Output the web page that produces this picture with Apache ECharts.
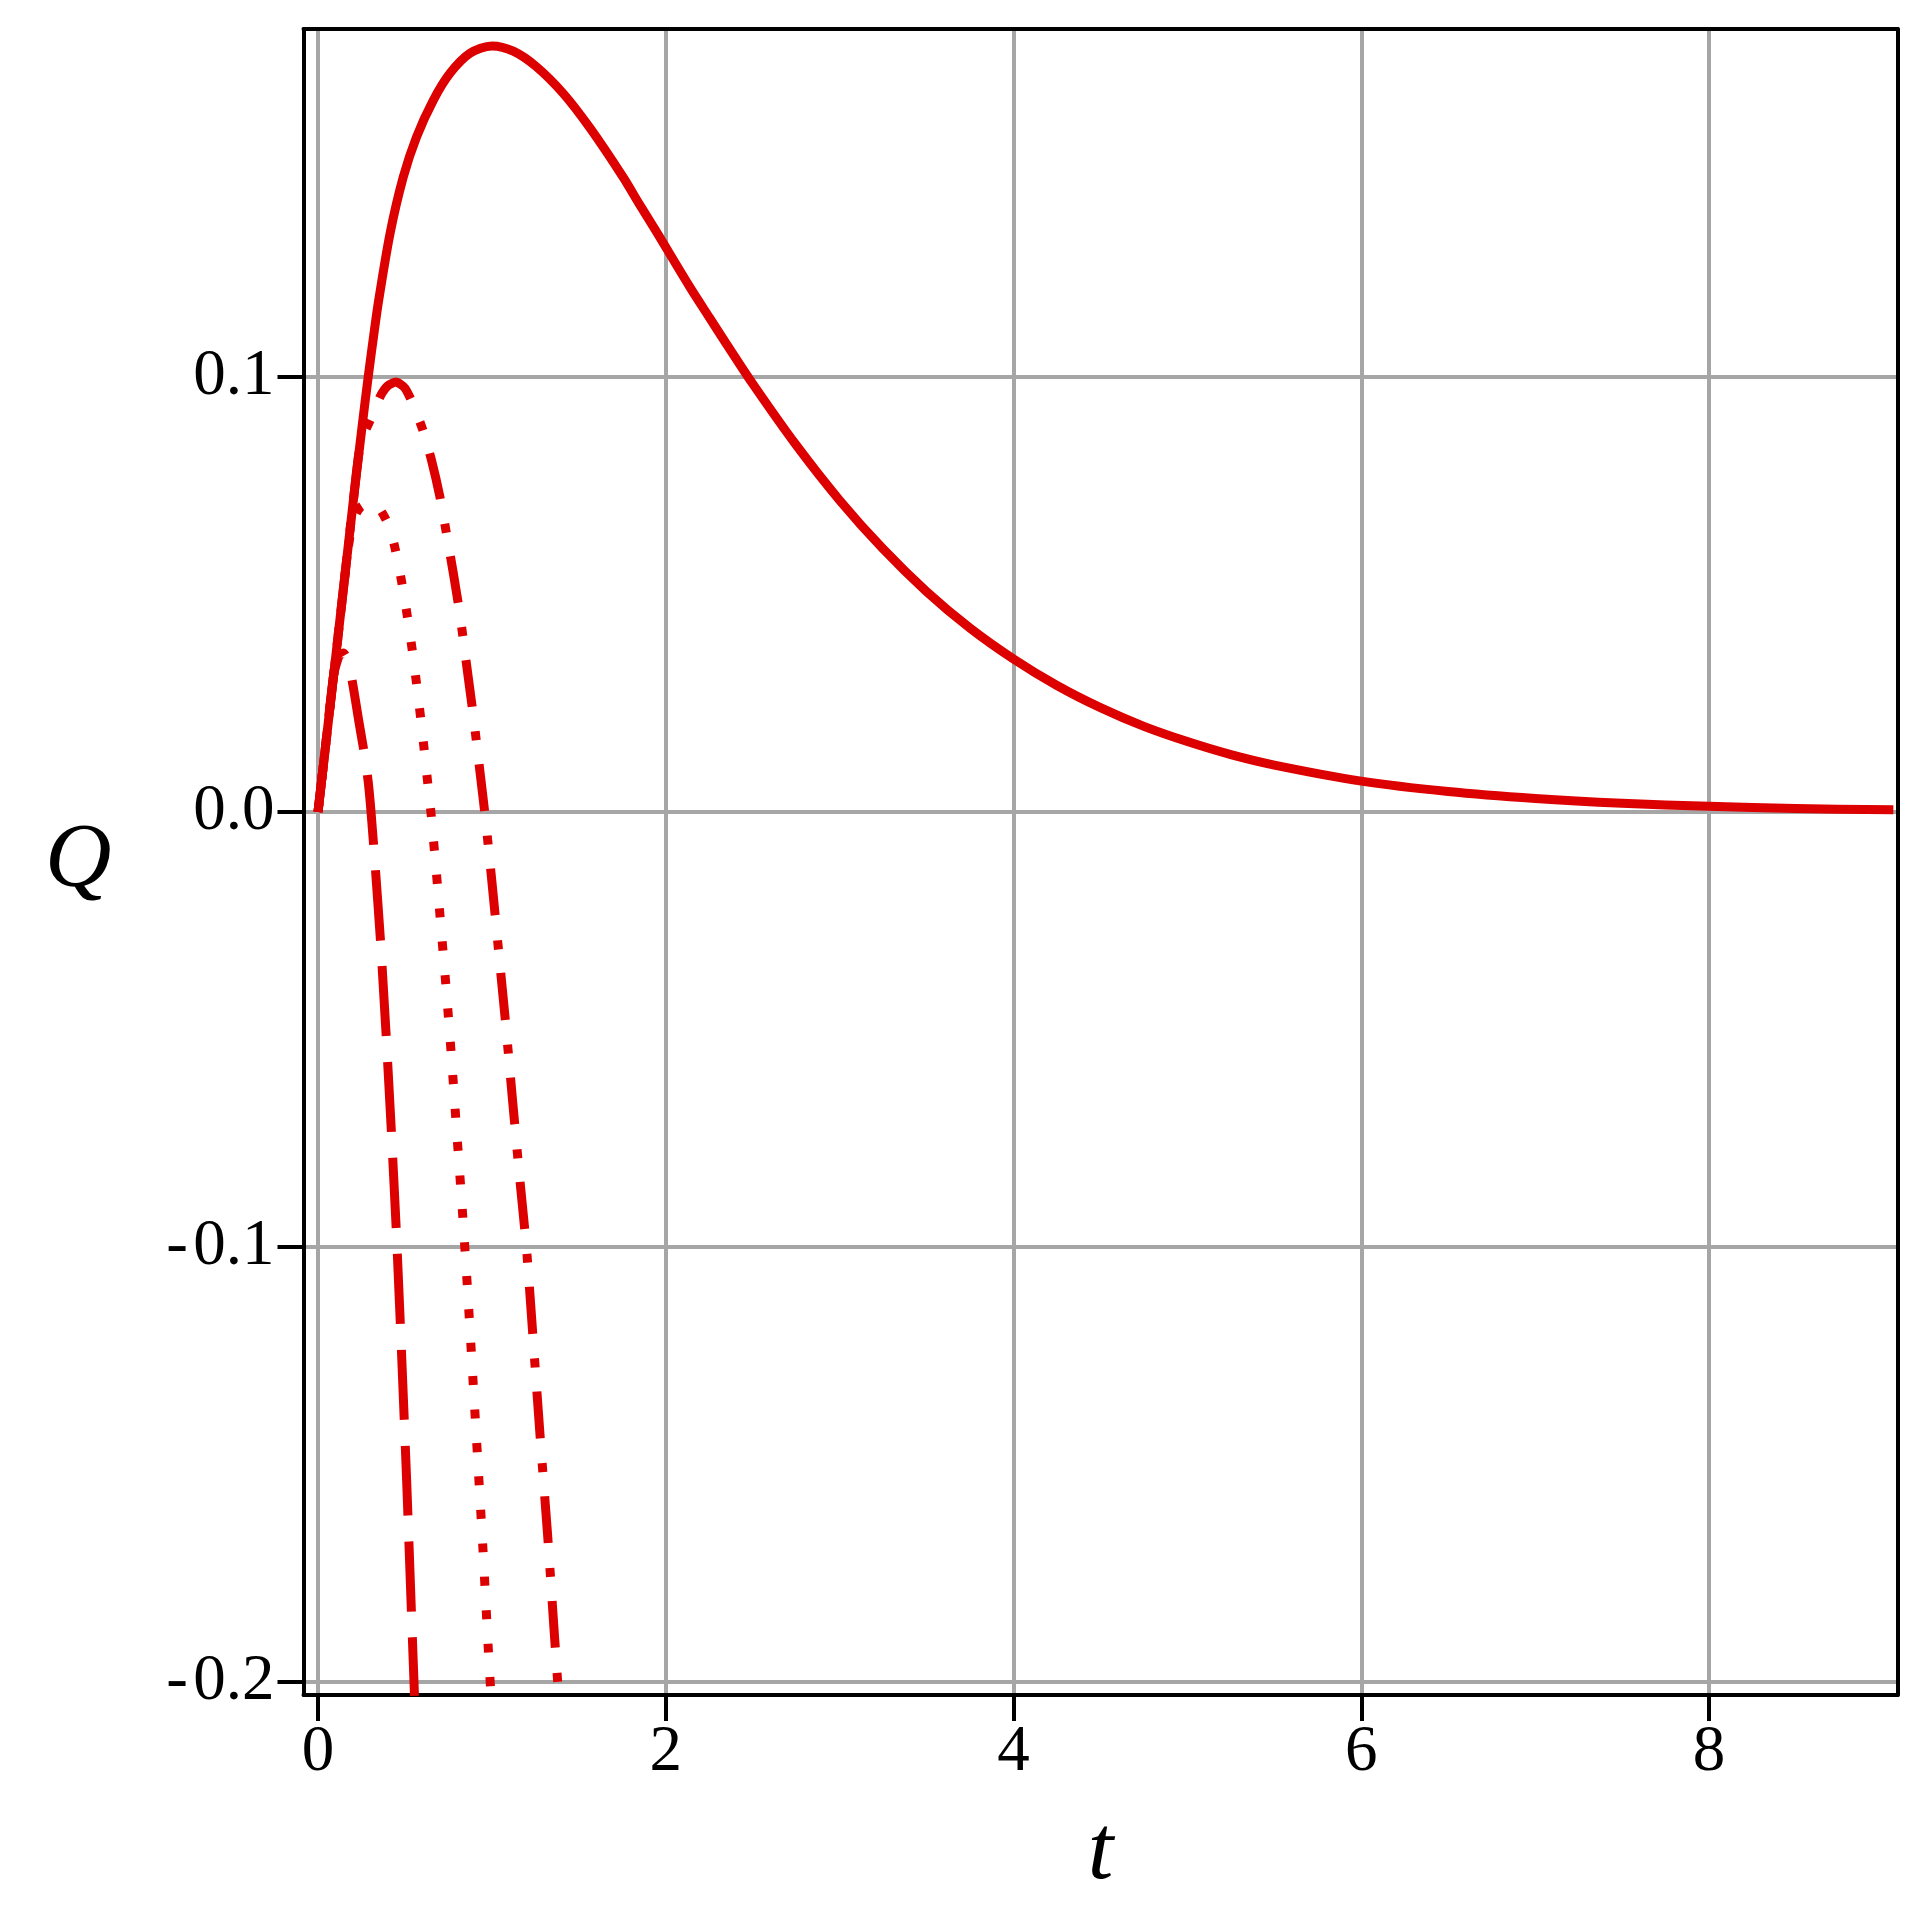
<!DOCTYPE html>
<html>
<head>
<meta charset="utf-8">
<title>Q(t)</title>
<script src="https://cdn.jsdelivr.net/npm/echarts@6/dist/echarts.min.js"></script>
<style>
  html, body { margin: 0; padding: 0; background: #fff; }
  #chart { width: 1927px; height: 1927px; }
</style>
</head>
<body>
<div id="chart"></div>
<script>
// values
const xTicks = [0, 2, 4, 6, 8];
const yTicks = [-0.2, -0.1, 0, 0.1];

const solidT = [0, 0.1, 0.2, 0.25, 0.29, 0.32, 0.347, 0.414, 0.49, 0.567, 0.663, 0.759, 0.874, 1.0, 1.123,
  1.257, 1.41, 1.563, 1.755, 1.85, 1.946, 2.138, 2.25, 2.35, 2.5, 2.75, 3.0, 3.25, 3.5, 3.75, 4.0, 4.25, 4.5,
  4.75, 5.0, 5.25, 5.5, 6.0, 6.5, 7.0, 7.5, 8.0, 8.5, 9.06];
const solidQ = [0, 0.035, 0.0705, 0.0875, 0.1005, 0.1095, 0.1172, 0.133, 0.146, 0.1553, 0.1637, 0.1699,
  0.1745, 0.1762, 0.175, 0.1714, 0.1653, 0.1574, 0.146, 0.1397, 0.1335, 0.1208, 0.1138, 0.1076, 0.0985,
  0.0844, 0.0717, 0.0605, 0.0507, 0.0423, 0.0352, 0.0291, 0.024, 0.0197, 0.0162, 0.0132, 0.0108, 0.0071,
  0.0047, 0.0031, 0.002, 0.0013, 0.0008, 0.0005];

const dashT = [0, 0.05, 0.09, 0.12, 0.146, 0.175, 0.203, 0.235, 0.27, 0.289, 0.305, 0.33, 0.36, 0.39, 0.42,
  0.45, 0.48, 0.51, 0.54, 0.555];
const dashQ = [0, 0.0175, 0.0315, 0.0358, 0.0366, 0.0345, 0.0287, 0.0208, 0.0126, 0.0069, 0, -0.013, -0.03,
  -0.05, -0.072, -0.096, -0.124, -0.154, -0.187, -0.2033];

const dotT = [0, 0.1, 0.17, 0.19, 0.21, 0.23, 0.25, 0.3, 0.35, 0.4, 0.44, 0.48, 0.51, 0.54, 0.57, 0.6, 0.63,
  0.65, 0.68, 0.71, 0.74, 0.77, 0.8, 0.83, 0.86, 0.89, 0.92, 0.95, 0.98, 0.995];
const dotQ = [0, 0.035, 0.0595, 0.065, 0.0678, 0.0694, 0.0703, 0.0712, 0.07, 0.0665, 0.0612, 0.0532, 0.046,
  0.0378, 0.0285, 0.0183, 0.0071, -0.0003, -0.0136, -0.0278, -0.042, -0.0577, -0.0748, -0.0915, -0.1098,
  -0.1297, -0.15, -0.1705, -0.193, -0.2033];

const dashDotT = [0, 0.1, 0.2, 0.237, 0.27, 0.305, 0.34, 0.366, 0.4, 0.448, 0.5, 0.55, 0.605, 0.653, 0.7,
  0.74, 0.78, 0.816, 0.854, 0.893, 0.934, 0.963, 1.0, 1.04, 1.08, 1.12, 1.16, 1.2, 1.24, 1.28, 1.32, 1.36, 1.384];
const dashDotQ = [0, 0.035, 0.0705, 0.083, 0.0875, 0.0905, 0.094, 0.0962, 0.098, 0.0989, 0.0975, 0.0935,
  0.0876, 0.0809, 0.0727, 0.0638, 0.0545, 0.0455, 0.034, 0.0222, 0.0084, -0.0015, -0.016, -0.0325, -0.049,
  -0.0668, -0.0842, -0.1008, -0.1228, -0.145, -0.166, -0.1895, -0.2033];

const X_MIN = -0.0834;
const X_MAX = 9.084;
const Y_MIN = -0.2031;
const Y_MAX = 0.1801;

const RED = '#dd0000';
const GRID_GREY = '#a6a6a6';
const FONT = 'Liberation Serif';

function pairs(ts, qs) {
  return ts.map((t, i) => [t, qs[i]]);
}

function curve(name, ts, qs, dash, smooth) {
  return {
    name,
    type: 'line',
    data: pairs(ts, qs),
    showSymbol: false,
    symbol: 'none',
    clip: true,
    smooth,
    lineStyle: { color: RED, width: 9, type: dash, cap: 'butt', join: 'round' }
  };
}

function frameAxis(position, min, max) {
  return {
    type: 'value',
    position,
    min,
    max,
    axisLine: { show: true, onZero: false, lineStyle: { color: '#000', width: 4 } },
    axisTick: { show: false },
    axisLabel: { show: false },
    splitLine: { show: false }
  };
}

const chart = echarts.init(document.getElementById('chart'), null, { renderer: 'canvas' });

chart.setOption({
  animation: false,
  backgroundColor: '#fff',
  grid: { left: 303.5, top: 29, width: 1594, height: 1666, containLabel: false },
  xAxis: [
    {
      type: 'value',
      position: 'bottom',
      min: X_MIN,
      max: X_MAX,
      name: 't',
      nameLocation: 'middle',
      nameGap: 113,
      nameTextStyle: { fontFamily: FONT, fontStyle: 'italic', fontSize: 92, color: '#000' },
      axisLine: { show: true, onZero: false, lineStyle: { color: '#000', width: 4 } },
      axisTick: { show: true, inside: false, length: 26, customValues: xTicks,
        lineStyle: { color: '#000', width: 4 } },
      axisLabel: { show: true, margin: 25, customValues: xTicks, fontFamily: FONT, fontSize: 65,
        color: '#000', formatter: (v) => String(v) },
      splitLine: { show: true, lineStyle: { color: GRID_GREY, width: 4 } }
    },
    frameAxis('top', X_MIN, X_MAX)
  ],
  yAxis: [
    {
      type: 'value',
      position: 'left',
      min: Y_MIN,
      max: Y_MAX,
      name: 'Q',
      nameLocation: 'middle',
      nameRotate: 0,
      nameGap: 192,
      nameTextStyle: { fontFamily: FONT, fontStyle: 'italic', fontSize: 92, color: '#000',
        padding: [32, 0, 0, 0] },
      axisLine: { show: true, onZero: false, lineStyle: { color: '#000', width: 4 } },
      axisTick: { show: true, inside: false, length: 26, customValues: yTicks,
        lineStyle: { color: '#000', width: 4 } },
      axisLabel: { show: true, margin: 29, customValues: yTicks, fontFamily: FONT, fontSize: 65,
        color: '#000',
        formatter: (v) => (v < 0 ? '-\u200a' + Math.abs(v).toFixed(1) : v.toFixed(1)) },
      splitLine: { show: true, lineStyle: { color: GRID_GREY, width: 4 } }
    },
    frameAxis('right', Y_MIN, Y_MAX)
  ],
  series: [
    curve('solid', solidT, solidQ, 'solid', 0.3),
    curve('dash', dashT, dashQ, [70, 26], 0.2),
    curve('dot', dotT, dotQ, [9, 24.5], 0.2),
    curve('dashdot', dashDotT, dashDotQ, [47, 25, 9, 24], 0.2)
  ]
});
</script>
</body>
</html>
